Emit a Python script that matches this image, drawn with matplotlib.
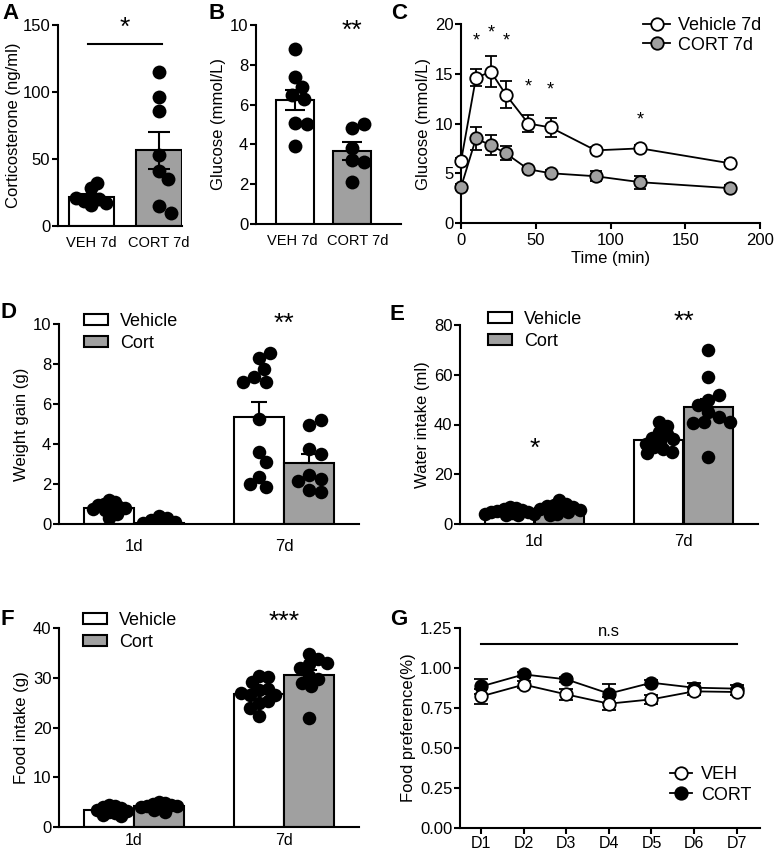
import numpy as np
import matplotlib
matplotlib.use('Agg')
import matplotlib.pyplot as plt
from matplotlib.patches import Patch
from matplotlib.lines import Line2D

plt.rcParams['font.family'] = ['Liberation Sans', 'DejaVu Sans']
plt.rcParams['font.size'] = 12
plt.rcParams['axes.linewidth'] = 1.5
plt.rcParams['xtick.major.width'] = 1.5
plt.rcParams['ytick.major.width'] = 1.5
plt.rcParams['xtick.major.size'] = 4
plt.rcParams['ytick.major.size'] = 4
plt.rcParams['xtick.major.pad'] = 3
plt.rcParams['ytick.major.pad'] = 1.5

GREY = '#a0a0a0'

# ---- data ----
# A corticosterone
a_labels = ['VEH 7d', 'CORT 7d']
a_mean = [21.9, 56.4]
a_sem = [2.0, 13.5]
a_veh = [28, 32, 22, 20, 19, 16, 17, 21]
a_cort = [115, 96, 86, 53, 41, 35, 15, 10]

# B glucose
b_labels = ['VEH 7d', 'CORT 7d']
b_mean = [6.25, 3.67]
b_sem = [0.5, 0.45]
b_veh = [8.8, 7.4, 6.9, 6.5, 6.3, 5.1, 5.0, 3.9]
b_cort = [4.8, 5.0, 3.8, 3.2, 3.1, 2.1]

# C glucose tolerance
c_time = [0, 10, 20, 30, 45, 60, 90, 120, 180]
c_veh = [6.2, 14.6, 15.2, 12.9, 10.0, 9.6, 7.3, 7.5, 6.0]
c_veh_sem = [0.3, 0.85, 1.55, 1.35, 0.85, 0.95, 0.3, 0.3, 0.3]
c_cort = [3.6, 8.5, 7.8, 7.0, 5.4, 5.0, 4.7, 4.1, 3.5]
c_cort_sem = [0.3, 1.15, 1.0, 0.7, 0.3, 0.3, 0.5, 0.65, 0.3]
c_star_t = [10, 20, 30, 45, 60, 120]
c_star_y = [17.4, 18.2, 17.4, 12.8, 12.5, 9.5]

days = ['1d', '7d']

# D weight gain
d_mean_veh = [0.8, 5.35]
d_mean_cort = [0.05, 3.05]
d_sem_veh = [0.1, 0.73]
d_sem_cort = [0.05, 0.43]
d_veh_1 = [1.2, 1.1, 1.0, 0.95, 0.9, 0.85, 0.8, 0.75, 0.7, 0.6, 0.5, 0.3]
d_cort_1 = [0.42, 0.3, 0.2, 0.12, 0.05, 0.02]
d_veh_7 = [8.3, 8.55, 7.75, 7.35, 7.1, 7.1, 5.25, 3.6, 3.1, 2.35, 1.85, 2.0]
d_cort_7 = [4.95, 5.2, 3.75, 3.5, 2.45, 2.25, 2.15, 1.7, 1.6]

# E water intake
e_mean_veh = [5.0, 33.8]
e_mean_cort = [6.3, 47.0]
e_sem_veh = [0.4, 1.3]
e_sem_cort = [0.5, 3.3]
e_veh_1 = [6.8, 6.5, 6.2, 5.8, 5.4, 5.0, 4.8, 4.5, 4.2, 4.0, 3.6, 3.5]
e_cort_1 = [9.5, 8.2, 7.6, 7.2, 6.8, 6.5, 6.0, 5.5, 5.0, 4.2, 3.5]
e_veh_7 = [41, 39.5, 37, 36, 34.5, 34, 33, 32, 31, 30, 29, 28.5]
e_cort_7 = [70, 59, 50, 52, 48, 45, 43, 41, 40.5, 41, 27]

# F food intake
f_mean_veh = [3.4, 26.7]
f_mean_cort = [4.2, 30.5]
f_sem_veh = [0.25, 0.9]
f_sem_cort = [0.2, 1.1]
f_veh_1 = [4.4, 4.2, 4.0, 3.8, 3.5, 3.3, 3.0, 2.8, 2.5, 2.3]
f_cort_1 = [5.0, 4.9, 4.7, 4.5, 4.3, 4.2, 4.0, 3.8, 3.5, 3.0]
f_veh_7 = [30.3, 30.2, 29.1, 27.6, 27.8, 26.6, 26.6, 27, 25, 25.3, 24, 22.4]
f_cort_7 = [34.7, 33.7, 32.7, 32, 30.3, 29.7, 29, 28.3, 21.9, 33]

# G food preference
g_days = ['D1', 'D2', 'D3', 'D4', 'D5', 'D6', 'D7']
g_veh = [0.823, 0.896, 0.835, 0.777, 0.804, 0.854, 0.85]
g_veh_sem = [0.046, 0.02, 0.035, 0.04, 0.03, 0.02, 0.02]
g_cort = [0.885, 0.96, 0.929, 0.84, 0.908, 0.877, 0.871]
g_cort_sem = [0.045, 0.015, 0.015, 0.06, 0.015, 0.03, 0.02]

W, H = 775, 852
fig = plt.figure(figsize=(W / 100, H / 100), dpi=100)


def add_ax(l, r, t, b):
    ax = fig.add_axes([l / W, 1 - b / H, (r - l) / W, (b - t) / H])
    ax.spines['top'].set_visible(False)
    ax.spines['right'].set_visible(False)
    return ax


def swarm(ax, xc, vals, s=100, tight=0.8):
    # simple beeswarm placement in pixel space
    d = np.sqrt(s) * fig.dpi / 72 * tight
    T = ax.transData
    placed, xs = [], []
    for v in vals:
        x0, y0 = T.transform((xc, v))
        best = x0
        found = False
        for k in range(80):
            for sg in (1, -1):
                px = x0 + sg * k * d * 0.2
                if all(np.hypot(px - qx, y0 - qy) >= d for qx, qy in placed):
                    best = px
                    found = True
                    break
            if found:
                break
        placed.append((best, y0))
        xs.append(T.inverted().transform((best, y0))[0])
    ax.scatter(xs, vals, s=s, c='k', zorder=5, linewidths=0)


def label(ax, txt, x, y):
    fig.text(x / W, 1 - y / H, txt, fontsize=16, fontweight='bold', va='top', ha='left')


# ---------- A ----------
ax = add_ax(58, 182, 25, 226)
ax.set_xlim(-0.49, 1.34)
ax.set_ylim(0, 150)
ax.bar([0, 1], a_mean, width=0.67, color=['white', GREY], edgecolor='k', linewidth=1.5, zorder=2)
ax.errorbar([0, 1], a_mean, yerr=a_sem, fmt='none', ecolor='k', elinewidth=1.5, capsize=8, capthick=1.5, zorder=3)
swarm(ax, 0, a_veh, s=100, tight=0.55)
swarm(ax, 1, a_cort, s=100, tight=0.85)
ax.set_xticks([0, 1])
ax.set_xticklabels(a_labels)
ax.tick_params(axis='x', length=0, pad=7, labelsize=10.5)
ax.set_yticks([0, 50, 100, 150])
ax.set_ylabel('Corticosterone (ng/ml)', labelpad=1)
ax.plot([-0.05, 1.05], [136, 136], color='k', lw=1.5, clip_on=False)
ax.text(0.5, 139, '*', ha='center', va='bottom', fontsize=19, clip_on=False)
label(ax, 'A', 2, 3)

# ---------- B ----------
ax = add_ax(256, 401, 25, 224)
ax.set_xlim(-0.68, 1.86)
ax.set_ylim(0, 10)
ax.bar([0, 1], b_mean, width=0.67, color=['white', GREY], edgecolor='k', linewidth=1.5, zorder=2)
ax.errorbar([0, 1], b_mean, yerr=b_sem, fmt='none', ecolor='k', elinewidth=1.5, capsize=7, capthick=1.5, zorder=3)
swarm(ax, 0, b_veh, s=100, tight=0.85)
swarm(ax, 1, b_cort, s=100, tight=0.85)
# tick marks are hidden, so the labels can sit slightly apart
ax.set_xticks([-0.04, 1.1])
ax.set_xticklabels(b_labels)
ax.tick_params(axis='x', length=0, pad=7, labelsize=10.5)
ax.set_yticks([0, 2, 4, 6, 8, 10])
ax.set_ylabel('Glucose (mmol/L)', labelpad=3)
ax.text(1, 9.1, '**', ha='center', va='bottom', fontsize=19, clip_on=False)
label(ax, 'B', 209, 3)

# ---------- C ----------
ax = add_ax(461, 760, 24, 223)
ax.set_xlim(0, 200)
ax.set_ylim(0, 20)
ax.errorbar(c_time, c_veh, yerr=c_veh_sem, color='k', lw=1.3, capsize=4.5, capthick=1.3,
            marker='o', ms=9, mfc='white', mec='k', mew=1.3, zorder=4, clip_on=False)
ax.errorbar(c_time, c_cort, yerr=c_cort_sem, color='k', lw=1.3, capsize=4.5, capthick=1.3,
            marker='o', ms=9, mfc=GREY, mec='k', mew=1.3, zorder=4, clip_on=False)
for t, y in zip(c_star_t, c_star_y):
    ax.text(t, y, '*', ha='center', va='bottom', fontsize=13)
ax.set_xticks([0, 50, 100, 150, 200])
ax.set_yticks([0, 5, 10, 15, 20])
ax.set_xlabel('Time (min)', labelpad=2)
ax.set_ylabel('Glucose (mmol/L)', labelpad=3)
h = [Line2D([], [], color='k', lw=1.3, marker='o', ms=9, mfc='white', mec='k', mew=1.3),
     Line2D([], [], color='k', lw=1.3, marker='o', ms=9, mfc=GREY, mec='k', mew=1.3)]
ax.legend(h, ['Vehicle 7d', 'CORT 7d'], loc='upper left', bbox_to_anchor=(0.61, 1.035),
          frameon=False, fontsize=13, handlelength=1.5, handletextpad=0.4,
          labelspacing=0.15, borderpad=0, borderaxespad=0)
label(ax, 'C', 391, 3)


def group_bars(ax, mv, mc, sv, sc, pts, ylim, yticks, ylab, legend_xy, tight_list):
    ax.set_xlim(-0.5, 1.5)
    ax.set_ylim(*ylim)
    xv = [-0.167, 0.833]
    xc = [0.167, 1.167]
    ax.bar(xv, mv, width=0.333, color='white', edgecolor='k', linewidth=1.5, zorder=2)
    ax.bar(xc, mc, width=0.333, color=GREY, edgecolor='k', linewidth=1.5, zorder=2)
    ax.errorbar(xv, mv, yerr=[np.zeros(2), sv], fmt='none', ecolor='k', elinewidth=1.5,
                capsize=6, capthick=1.5, zorder=3)
    ax.errorbar(xc, mc, yerr=[np.zeros(2), sc], fmt='none', ecolor='k', elinewidth=1.5,
                capsize=6, capthick=1.5, zorder=3)
    for x, p, tg in zip([xv[0], xc[0], xv[1], xc[1]], pts, tight_list):
        swarm(ax, x, p, s=95, tight=tg)
    ax.set_xticks([0, 1])
    ax.set_xticklabels(days)
    ax.set_yticks(yticks)
    ax.set_ylabel(ylab, labelpad=3)
    hs = [Patch(facecolor='white', edgecolor='k', linewidth=1.5),
          Patch(facecolor=GREY, edgecolor='k', linewidth=1.5)]
    ax.legend(hs, ['Vehicle', 'Cort'], loc='upper left', bbox_to_anchor=legend_xy,
              frameon=False, fontsize=13, handlelength=1.35, handleheight=0.55,
              handletextpad=0.65, labelspacing=0.25, borderpad=0, borderaxespad=0)


# ---------- D ----------
ax = add_ax(59, 359, 324, 524)
group_bars(ax, d_mean_veh, d_mean_cort, d_sem_veh, d_sem_cort,
           [d_veh_1, d_cort_1, d_veh_7, d_cort_7], (0, 10), [0, 2, 4, 6, 8, 10],
           'Weight gain (g)', (0.083, 1.055), [0.45, 0.6, 0.85, 0.85])
ax.tick_params(axis='x', length=0, pad=11)
ax.text(1, 9.4, '**', ha='center', va='bottom', fontsize=19, clip_on=False)
label(ax, 'D', 1, 302)

# ---------- E ----------
ax = add_ax(460, 758, 325, 524)
group_bars(ax, e_mean_veh, e_mean_cort, e_sem_veh, e_sem_cort,
           [e_veh_1, e_cort_1, e_veh_7, e_cort_7], (0, 80), [0, 20, 40, 60, 80],
           'Water intake (ml)', (0.094, 1.07), [0.45, 0.5, 0.6, 0.8])
ax.tick_params(axis='x', length=0, pad=7)
ax.text(0, 25.5, '*', ha='center', va='bottom', fontsize=19)
ax.text(1, 76.5, '**', ha='center', va='bottom', fontsize=19, clip_on=False)
label(ax, 'E', 390, 304)

# ---------- F ----------
ax = add_ax(59, 359, 628, 827)
group_bars(ax, f_mean_veh, f_mean_cort, f_sem_veh, f_sem_cort,
           [f_veh_1, f_cort_1, f_veh_7, f_cort_7], (0, 40), [0, 10, 20, 30, 40],
           'Food intake (g)', (0.08, 1.08), [0.45, 0.45, 0.65, 0.65])
ax.tick_params(axis='x', length=0, pad=4, labelsize=11.5)
ax.text(1, 38.8, '***', ha='center', va='bottom', fontsize=19, clip_on=False)
label(ax, 'F', 1, 609)

# ---------- G ----------
ax = add_ax(460, 760, 628, 828)
xg = np.arange(1, 8)
ax.set_xlim(0.5, 7.55)
ax.set_ylim(0, 1.25)
ax.errorbar(xg, g_cort, yerr=g_cort_sem, color='k', lw=1.3, capsize=5, capthick=1.3,
            marker='o', ms=9, mfc='k', mec='k', mew=1.3, zorder=3)
ax.errorbar(xg, g_veh, yerr=g_veh_sem, color='k', lw=1.3, capsize=5, capthick=1.3,
            marker='o', ms=9, mfc='white', mec='k', mew=1.3, zorder=4)
ax.set_xticks(xg)
ax.set_xticklabels(g_days)
ax.tick_params(axis='x', pad=2, labelsize=11.5)
ax.set_yticks([0, 0.25, 0.5, 0.75, 1.0, 1.25])
ax.set_yticklabels(['0.00', '0.25', '0.50', '0.75', '1.00', '1.25'])
ax.set_ylabel('Food preference(%)', labelpad=3)
ax.plot([1, 7], [1.15, 1.15], color='k', lw=1.5)
ax.text(4, 1.18, 'n.s', ha='center', va='bottom', fontsize=12)
hg = [Line2D([], [], color='k', lw=1.3, marker='o', ms=9, mfc='white', mec='k', mew=1.3),
      Line2D([], [], color='k', lw=1.3, marker='o', ms=9, mfc='k', mec='k', mew=1.3)]
ax.legend(hg, ['VEH', 'CORT'], loc='upper left', bbox_to_anchor=(0.7, 0.31),
          frameon=False, fontsize=13, handlelength=1.2, handletextpad=0.5,
          labelspacing=0.2, borderpad=0, borderaxespad=0)
label(ax, 'G', 390, 609)

fig.savefig('out.png', dpi=100)
